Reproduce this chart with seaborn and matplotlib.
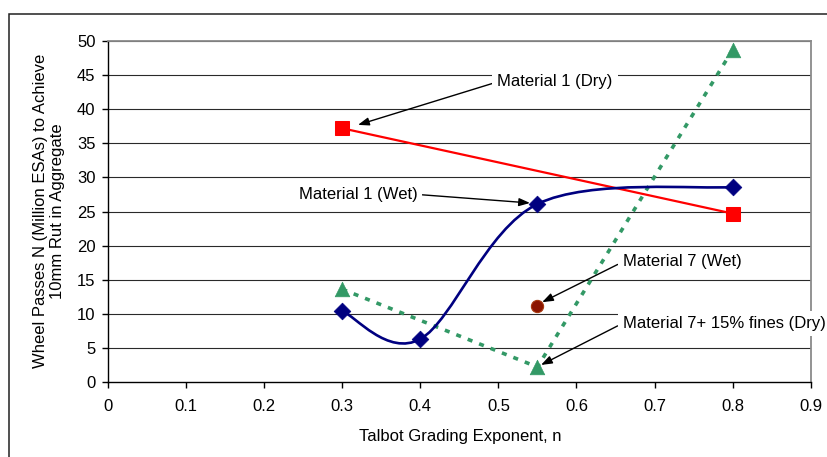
import numpy as np
import pandas as pd
import matplotlib
matplotlib.use("Agg")
import matplotlib.pyplot as plt
import seaborn as sns
from matplotlib.path import Path
from matplotlib.patches import PathPatch, Rectangle

# ---------------- data ----------------
x_dry = [0.3, 0.8]
n_dry = [37.2, 24.7]

x_wet = [0.3, 0.4, 0.55, 0.8]
n_wet = [10.4, 6.3, 26.1, 28.6]

x_m7wet = [0.55]
n_m7wet = [11.1]

x_fines = [0.3, 0.55, 0.8]
n_fines = [13.6, 2.2, 48.7]

x_ticks = [0, 0.1, 0.2, 0.3, 0.4, 0.5, 0.6, 0.7, 0.8, 0.9]
x_tick_labels = ["0", "0.1", "0.2", "0.3", "0.4", "0.5", "0.6", "0.7", "0.8", "0.9"]
y_ticks = [0, 5, 10, 15, 20, 25, 30, 35, 40, 45, 50]
y_tick_labels = [str(v) for v in y_ticks]

x_label = "Talbot Grading Exponent, n"
y_label = "Wheel Passes N (Million ESAs) to Achieve\n10mm Rut in Aggregate"

label_dry = "Material 1 (Dry)"
label_wet = "Material 1 (Wet)"
label_m7wet = "Material 7 (Wet)"
label_fines = "Material 7+ 15% fines (Dry)"

# ---------------- style ----------------
sns.set_theme(style="white")
plt.rcParams["font.family"] = ["Liberation Sans", "DejaVu Sans"]
FS = 12

W, H = 827, 457
fig = plt.figure(figsize=(W / 100, H / 100), dpi=100)
ax_l, ax_r, ax_t, ax_b = 108, 810.7, 41, 382
ax = fig.add_axes([ax_l / W, 1 - ax_b / H, (ax_r - ax_l) / W, (ax_b - ax_t) / H])

# outer chart frame (clipped by the image at right / bottom)
fig.add_artist(Rectangle((9 / W, -0.2), 2.0, (H - 14) / H + 0.2,
                         transform=fig.transFigure, fill=False,
                         ec="#202020", lw=1.1))

ax.set_xlim(0, 0.9)
ax.set_ylim(0, 50)

# gridlines
for v in y_ticks[1:]:
    ax.axhline(v, color="#2a2a2a", lw=0.8, zorder=1)

# Material 1 (Dry)
sns.lineplot(x=x_dry, y=n_dry, ax=ax, color="#FF0000", lw=1.6,
             marker="s", markersize=10.5, markeredgecolor="#FF0000",
             zorder=4, clip_on=False)

# Material 7 + fines (Dry)
sns.lineplot(x=x_fines, y=n_fines, ax=ax, color="#339966", lw=2.6,
             linestyle=(0, (1.4, 2.0)), zorder=3)
sns.scatterplot(x=x_fines, y=n_fines, ax=ax, color="#339966", marker="^",
                s=10.5 ** 2, edgecolor="#339966", linewidth=0.5, zorder=5,
                clip_on=False)


# Material 1 (Wet) - Excel style smoothed line (bezier through the points)
def smooth_path(xs, ys):
    pts = np.column_stack([xs, ys]).astype(float)
    verts = [pts[0]]
    codes = [Path.MOVETO]
    n = len(pts)
    for i in range(n - 1):
        p0 = pts[max(i - 1, 0)]
        p1 = pts[i]
        p2 = pts[i + 1]
        p3 = pts[min(i + 2, n - 1)]
        verts += [p1 + (p2 - p0) / 6.0, p2 - (p3 - p1) / 6.0, p2]
        codes += [Path.CURVE4] * 3
    return Path(verts, codes)


ax.add_patch(PathPatch(smooth_path(x_wet, n_wet), fill=False,
                       ec="#000080", lw=1.9, zorder=4))
sns.scatterplot(x=x_wet, y=n_wet, ax=ax, color="#000080", marker="D",
                s=8.5 ** 2, edgecolor="#000080", linewidth=0.5, zorder=6,
                clip_on=False)

# Material 7 (Wet)
sns.scatterplot(x=x_m7wet, y=n_m7wet, ax=ax, color="#8B1500", marker="o",
                s=8.8 ** 2, edgecolor="#A83A10", linewidth=0.8, zorder=6)

# axes styling
for side in ["left", "bottom"]:
    ax.spines[side].set_color("#000000")
    ax.spines[side].set_linewidth(1.0)
for side in ["top", "right"]:
    ax.spines[side].set_color("#8a8a8a")
    ax.spines[side].set_linewidth(1.3)

ax.set_xticks(x_ticks)
ax.set_xticklabels(x_tick_labels)
ax.set_yticks(y_ticks)
ax.set_yticklabels(y_tick_labels)
ax.tick_params(axis="both", which="major", direction="out", length=4,
               width=1.0, color="#000000", labelsize=FS, labelcolor="#000000",
               bottom=True, left=True, top=False, right=False)
ax.tick_params(axis="x", pad=8)
ax.tick_params(axis="y", pad=5)
ax.set_xlabel("")
ax.set_ylabel("")

fig.text(460 / W, 1 - 436 / H, x_label, ha="center", va="center",
         fontsize=FS, color="#000000")
fig.text(49 / W, 1 - 211 / H, y_label, ha="center", va="center",
         rotation=90, fontsize=FS, color="#000000", multialignment="center",
         linespacing=1.1)

# callouts
box = dict(boxstyle="square,pad=0.3", fc="white", ec="none")


def callout(text, xy, xytext, relpos):
    ax.annotate(text, xy=xy, xytext=xytext, textcoords="data",
                ha="center", va="center", fontsize=FS, color="#000000",
                bbox=box, zorder=10, annotation_clip=False,
                arrowprops=dict(arrowstyle="-|>,head_length=0.55,head_width=0.2",
                                color="#000000", lw=1.0, relpos=relpos,
                                shrinkA=0, shrinkB=0))


callout(label_dry, (0.3202, 37.7), (0.5726, 44.0), (0, 0.5))
callout(label_wet, (0.5405, 26.25), (0.3202, 27.5), (1, 0.5))
callout(label_m7wet, (0.556, 11.7), (0.7352, 17.6), (0, 0.5))
callout(label_fines, (0.5546, 2.5), (0.789, 8.6), (0, 0.5))

fig.savefig("out.png", dpi=100)
